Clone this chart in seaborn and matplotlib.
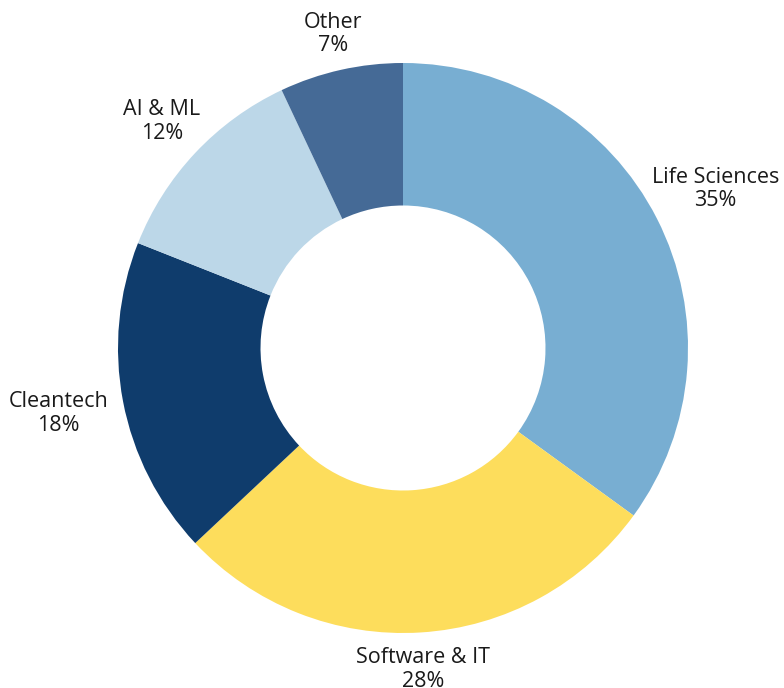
import numpy as np
import matplotlib.pyplot as plt
import seaborn as sns

# sector shares (percent), clockwise from 12 o'clock
sectors = ['Life Sciences', 'Software & IT', 'Cleantech', 'AI & ML', 'Other']
shares = [35, 28, 18, 12, 7]
colors = ['#78aed2', '#fddd5c', '#0f3c6c', '#bcd7e8', '#456a96']

sns.set_theme(style='white')
plt.rcParams['font.family'] = ['Open Sans', 'DejaVu Sans']

fig = plt.figure(figsize=(7.84, 6.88), dpi=100, facecolor='white')
# axes sized so the donut (radius 1) sits where the reference puts it
ax = fig.add_axes([118 / 784, 55 / 688, 570 / 784, 570 / 688])
ax.set_facecolor('white')

wedges, _ = ax.pie(shares, colors=colors, startangle=90, counterclock=False,
                   radius=1.0, wedgeprops=dict(width=0.5, linewidth=0))
ax.set_xlim(-1, 1)
ax.set_ylim(-1, 1)
ax.set_aspect('equal')
ax.axis('off')

# label distance from centre for each sector (layout only)
label_r = [1.23, 1.13, 1.23, 1.16, 1.13]
for w, name, val, r in zip(wedges, sectors, shares, label_r):
    ang = np.deg2rad((w.theta1 + w.theta2) / 2)
    ax.text(r * np.cos(ang), r * np.sin(ang), f'{name}\n{val}%',
            ha='center', va='center', fontsize=15.5, color='#1a1a1a',
            linespacing=1.15, clip_on=False)

plt.savefig('out.png', dpi=100, facecolor='white')
